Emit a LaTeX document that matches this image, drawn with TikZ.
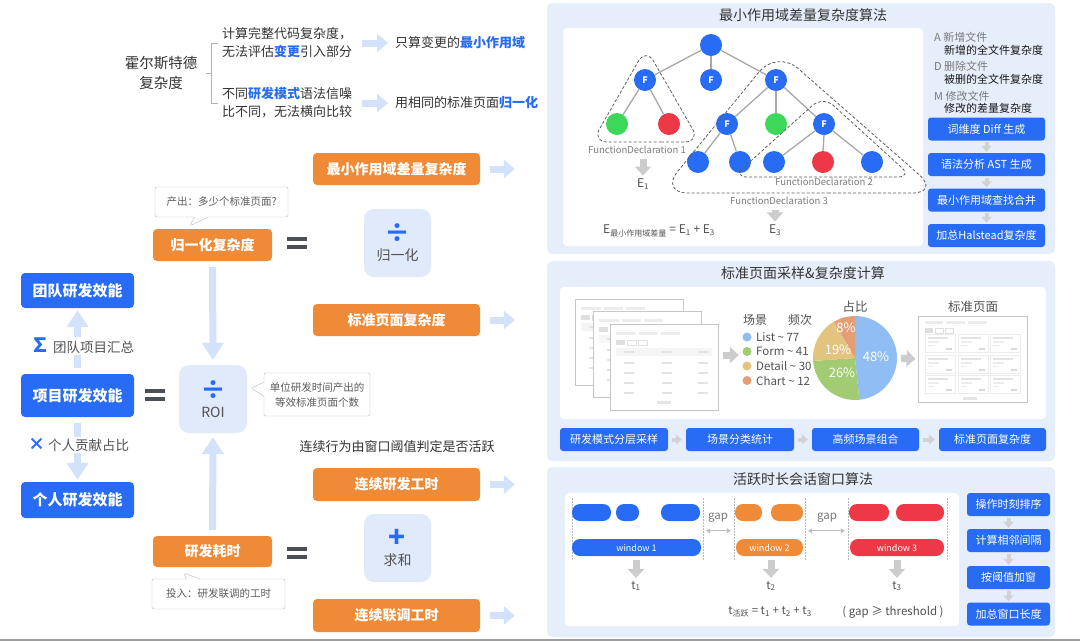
\documentclass[tikz,border=0pt]{standalone}
\usepackage{fontspec}
\setmainfont{Noto Sans CJK SC}
\usetikzlibrary{calc,positioning,arrows.meta,shapes.callouts}

\definecolor{tblue}{HTML}{286CF5}
\definecolor{torange}{HTML}{EF8A37}
\definecolor{tred}{HTML}{EE3848}
\definecolor{tgreen}{HTML}{3DD85A}
\definecolor{panelbg}{HTML}{E6EEFC}
\definecolor{opbg}{HTML}{E1EAFB}
\definecolor{fatblue}{HTML}{D3E2FB}
\definecolor{eqgrey}{HTML}{4B4F56}
\definecolor{darktext}{HTML}{333333}
\definecolor{subtext}{HTML}{7A7A7A}
\definecolor{linkgrey}{HTML}{A8A8A8}
\definecolor{pieblue}{HTML}{8FBDF4}
\definecolor{piegreen}{HTML}{A2CC74}
\definecolor{pietan}{HTML}{E2C47E}
\definecolor{pieorange}{HTML}{E49E76}

\begin{document}
\begin{tikzpicture}[x=1pt,y=-1pt]

\tikzset{orangebox/.style={fill=torange,rounded corners=4pt,text=white,font=\bfseries\fontsize{14}{16}\selectfont,minimum width=167pt,minimum height=32pt,inner sep=0pt},
shortbox/.style={orangebox,minimum width=119pt},
bluebox/.style={fill=tblue,rounded corners=4pt,text=white,font=\bfseries\fontsize{15}{17}\selectfont,minimum width=113pt,inner sep=0pt},
opbox/.style={fill=opbg,rounded corners=10pt,minimum width=67pt,minimum height=68pt,inner sep=0pt,align=center,text=darktext!85,font=\fontsize{14}{18}\selectfont},
notebox/.style={rectangle callout,draw=gray!55,fill=white,rounded corners=2pt,inner sep=0pt,align=center,text=darktext!80,font=\fontsize{10.5}{15}\selectfont,callout pointer width=14pt},
eqsign/.style={minimum width=19pt,minimum height=12.5pt,inner sep=0pt},
fatarrow/.style={draw=fatblue,line width=7pt,-{Triangle[width=18pt,length=11pt]}},
bigarrow/.style={draw=fatblue,line width=7pt,-{Triangle[width=21pt,length=17pt]}},
greyarrow/.style={draw=gray!40,line width=7pt,-{Triangle[width=16pt,length=9pt]}},
stepgrey/.style={draw=gray!35,line width=4pt,-{Triangle[width=10pt,length=6pt]}},
gaparrow/.style={draw=gray!50,line width=1.2pt,{Triangle[width=5pt,length=4pt]}-{Triangle[width=5pt,length=4pt]}},
stepbox/.style={fill=tblue,rounded corners=3pt,text=white,font=\fontsize{11}{13}\selectfont,minimum height=23pt,inner sep=0pt},
panel/.style={fill=panelbg,rounded corners=6pt,inner sep=0pt},
whitebox/.style={fill=white,rounded corners=4pt,inner sep=0pt},
paneltitle/.style={text=darktext,font=\fontsize{14}{16}\selectfont,inner sep=0pt},
bodytext/.style={text=darktext,font=\fontsize{13}{18}\selectfont,inner sep=0pt,align=left},
astnode/.style={circle,fill=tblue,minimum size=22pt,inner sep=0pt,text=white,font=\bfseries\fontsize{9}{9}\selectfont},
astlink/.style={draw=linkgrey,line width=1.3pt},
fdline/.style={draw=gray!75!black,dash pattern=on 3pt off 2pt,line width=0.8pt},
fdlabel/.style={text=subtext,font=\fontsize{9.5}{11}\selectfont,inner sep=0pt},
keytxt/.style={text=subtext,font=\fontsize{11}{13}\selectfont,inner sep=0pt,anchor=west},
keydesc/.style={text=black!90,font=\fontsize{11}{13}\selectfont,inner sep=0pt,anchor=west},
pill/.style={rounded corners=8pt,minimum height=17pt,inner sep=0pt,text=white,font=\fontsize{9}{10}\selectfont},
vline/.style={draw=gray!55,line width=0.8pt,dash pattern=on 1.5pt off 1.5pt},
tlabel/.style={text=darktext!85,font=\fontsize{11.5}{13}\selectfont,inner sep=0pt},
pagebox/.style={draw=gray!45,fill=white,line width=0.8pt},
legdot/.style={circle,minimum size=9pt,inner sep=0pt}}

% Canvas
\useasboundingbox (0,0) rectangle (1080,641);
\fill[white] (0,0) rectangle (1080,641);
\draw[gray!75,line width=1.5pt] (0,640) -- (1080,640);

% Halstead critique
\node (holst) [bodytext,align=center,font=\fontsize{14.5}{20}\selectfont] at (161,73) {霍尔斯特德\\复杂度};
\node (crit1) [bodytext,anchor=west] at (222,43) {计算完整代码复杂度，\\无法评估\textcolor{tblue}{\textbf{变更}}引入部分};
\node (crit2) [bodytext,anchor=west] at (222,103) {不同\textcolor{tblue}{\textbf{研发模式}}语法信噪\\比不同，无法横向比较};
\node (fix1) [bodytext,anchor=west] at (395,43) {只算变更的\textcolor{tblue}{\textbf{最小作用域}}};
\node (fix2) [bodytext,anchor=west] at (395,103) {用相同的标准页面\textcolor{tblue}{\textbf{归一化}}};
\draw[gray!60,line width=0.8pt] ([xshift=-4pt]crit1.west) -- ++(-7,0) |- ([xshift=-4pt]crit2.west);
\draw[gray!60,line width=0.8pt] ([xshift=9pt]holst.east) -- ++(5,0);
\draw[fatarrow,shorten <=10pt,shorten >=7pt] (crit1.east) -- (fix1.west);
\draw[fatarrow,shorten <=10pt,shorten >=7pt] (crit2.east) -- (fix2.west);

% Efficiency levels
\node (teamEff) [bluebox,minimum height=35pt] at (77.5,290.5) {团队研发效能};
\node (projEff) [bluebox,minimum height=43pt] at (77.5,395.5) {项目研发效能};
\node (selfEff) [bluebox,minimum height=36pt] at (77.5,500) {个人研发效能};
\draw[bigarrow,shorten <=6pt,shorten >=2pt] (projEff.north) -- (teamEff.south);
\draw[bigarrow,shorten <=6pt,shorten >=2pt] (projEff.south) -- (selfEff.north);
\node (sumLbl) [bodytext,fill=white,anchor=west,inner sep=1pt,text=darktext!85,font=\fontsize{13.5}{16}\selectfont] at (29,346) {\textcolor{tblue}{\bfseries\fontsize{20}{20}\selectfont ∑}\ 团队项目汇总};
\node (mulLbl) [bodytext,fill=white,anchor=west,inner sep=1pt,text=darktext!85,font=\fontsize{13.5}{16}\selectfont] at (27,445) {\textcolor{tblue}{\bfseries\fontsize{17}{17}\selectfont ×}\ 个人贡献占比};

% Formula blocks
\node (normCx) [shortbox] at (212.5,245) {归一化复杂度};
\node (rdCost) [shortbox,minimum height=31pt] at (212.5,551.5) {研发耗时};
\node (roiOp) [opbox,minimum width=68pt] at (213,399) {{\bfseries\fontsize{26}{26}\selectfont\textcolor{tblue}{÷}}\\ROI};
\node (normOp) [opbox] at (397.5,243) {{\bfseries\fontsize{26}{26}\selectfont\textcolor{tblue}{÷}}\\归一化};
\node (sumOp) [opbox] at (397.5,548) {{\bfseries\fontsize{28}{26}\selectfont\textcolor{tblue}{+}}\\求和};
\node (eq1) [eqsign] at (297,243) {};
\node (eq2) [eqsign] at (155,395) {};
\node (eq3) [eqsign] at (297,553) {};
\foreach \e in {eq1,eq2,eq3} {
  \fill[eqgrey] (\e.north west) rectangle ([yshift=-4.5pt]\e.north east);
  \fill[eqgrey] ([yshift=4.5pt]\e.south west) rectangle (\e.south east);
}
\draw[bigarrow,shorten <=6pt,shorten >=5pt] (normCx.south) -- (roiOp.north);
\draw[bigarrow,shorten <=6pt,shorten >=4pt] (rdCost.north) -- (roiOp.south);

% Callouts
\node (outNote) [notebox,minimum width=133pt,minimum height=30pt,callout absolute pointer={($(normCx.north west)+(37,-3)$)}] at (221.5,202) {产出：多少个标准页面?};
\node (roiNote) [notebox,minimum width=106pt,minimum height=43pt,callout absolute pointer={($(roiOp.east)+(4,-11)$)}] at (317,394.5) {单位研发时间产出的\\等效标准页面个数};
\node (inNote) [notebox,minimum width=133pt,minimum height=30pt,callout absolute pointer={($(rdCost.south west)+(31,6)$)}] at (218.5,594) {投入：研发联调的工时};

% Complexity and time terms
\node (minScope) [orangebox] at (396.5,169) {最小作用域差量复杂度};
\node (stdPage) [orangebox] at (396.5,320) {标准页面复杂度};
\node (ruleNote) [bodytext] at (397,447) {连续行为由窗口阈值判定是否活跃};
\node (devTime) [orangebox,minimum height=33pt] at (396.5,484.5) {连续研发工时};
\node (dbgTime) [orangebox,minimum height=33pt] at (396.5,615.5) {连续联调工时};

% Panels
\node (scopePanel) [panel,minimum width=508pt,minimum height=251pt] at (801,128.5) {};
\node (pagePanel) [panel,minimum width=508pt,minimum height=200pt] at (801,361) {};
\node (timePanel) [panel,minimum width=508pt,minimum height=170pt] at (801,552) {};
\node (scopeBoard) [whitebox,minimum width=360pt,minimum height=218pt] at (743,137) {};
\node (pageBoard) [whitebox,minimum width=486pt,minimum height=132pt] at (803,353) {};
\node (timeBoard) [whitebox,minimum width=394pt,minimum height=133pt] at (762,559.5) {};
\node (scopeTitle) [paneltitle] at (803,15) {最小作用域差量复杂度算法};
\node (pageTitle) [paneltitle] at (803,273) {标准页面采样\&复杂度计算};
\node (timeTitle) [paneltitle] at (803,479) {活跃时长会话窗口算法};
\draw[fatarrow,shorten <=10pt,shorten >=32pt] (minScope.east) -- (minScope.east -| scopePanel.west);
\draw[fatarrow,shorten <=10pt,shorten >=32pt] (stdPage.east) -- (stdPage.east -| pagePanel.west);
\draw[fatarrow,shorten <=10pt,shorten >=32pt] (devTime.east) -- (devTime.east -| timePanel.west);
\draw[fatarrow,shorten <=10pt,shorten >=32pt] (dbgTime.east) -- (dbgTime.east -| timePanel.west);

% AST tree
\node (tRoot) [astnode] at (711,45) {};
\node (tF1) [astnode] at (645,80) {F};
\node (tF2) [astnode] at (711,80) {F};
\node (tF3) [astnode] at (776,80) {F};
\node (tG1) [astnode,fill=tgreen] at (617,124) {};
\node (tR1) [astnode,fill=tred] at (669,124) {};
\node (tF4) [astnode] at (727,124) {F};
\node (tG2) [astnode,fill=tgreen] at (776,124) {};
\node (tF5) [astnode] at (824,124) {F};
\node (tB1) [astnode] at (698,162) {};
\node (tB2) [astnode] at (740,162) {};
\node (tB3) [astnode] at (774,162) {};
\node (tR2) [astnode,fill=tred] at (823,162) {};
\node (tB4) [astnode] at (872,162) {};
\foreach \src/\dst in {tRoot.208/tF1.28,tRoot.south/tF2.north,tRoot.332/tF3.152,tF1.237/tG1.57,tF1.299/tR1.119,tF3.222/tF4.42,tF3.south/tG2.north,tF3.318/tF5.138,tF4.233/tB1.53,tF4.289/tB2.109,tF5.217/tB3.37,tF5.south/tR2.north,tF5.322/tB4.142}
  \draw[astlink] (\src) -- (\dst);
\draw[fdline,rounded corners=15pt] (646,142) -- (700,142) -- (646,48) -- (592,142) -- cycle;
\draw[fdline,rounded corners=14pt] (820,177) -- (912,177) -- (823,96) -- (733,177) -- cycle;
\draw[fdline,rounded corners=28pt] (800,193) -- (940,193) -- (777,50) -- (660,193) -- cycle;
\node (fd1) [fdlabel] at (637,150) {FunctionDeclaration 1};
\node (fd2) [fdlabel] at (824,182) {FunctionDeclaration 2};
\node (fd3) [fdlabel] at (779,201) {FunctionDeclaration 3};
\node (e1) [tlabel,font=\fontsize{12}{14}\selectfont] at (643,184) {E\textsubscript{1}};
\node (e3) [tlabel,font=\fontsize{12}{14}\selectfont] at (775,230) {E\textsubscript{3}};
\draw[greyarrow,shorten <=5pt,shorten >=3pt] (fd1.south -| e1) -- (e1.north);
\draw[greyarrow,shorten <=5pt,shorten >=3pt] (fd3.south -| e3) -- (e3.north);
\node (eSum) [tlabel,anchor=west,font=\fontsize{12}{14}\selectfont] at (603,231) {E\textsubscript{最小作用域差量} = E\textsubscript{1} + E\textsubscript{3}};

% File kinds and steps
\node (addKey) [keytxt] at (934,37) {A\ 新增文件};
\node (addDesc) [keydesc] at (944,50) {新增的全文件复杂度};
\node (delKey) [keytxt] at (934,66) {D\ 删除文件};
\node (delDesc) [keydesc] at (944,79) {被删的全文件复杂度};
\node (modKey) [keytxt] at (934,96) {M\ 修改文件};
\node (modDesc) [keydesc] at (944,108) {修改的差量复杂度};
\node (diffStep) [stepbox,minimum width=117pt] at (986.5,129) {词维度 Diff 生成};
\node (astStep) [stepbox,minimum width=117pt] at (986.5,164.5) {语法分析 AST 生成};
\node (mergeStep) [stepbox,minimum width=117pt] at (986.5,200) {最小作用域查找合并};
\node (haltStep) [stepbox,minimum width=117pt] at (986.5,235.5) {加总Halstead复杂度};
\draw[stepgrey,shorten <=1.5pt,shorten >=1pt] (diffStep) -- (astStep);
\draw[stepgrey,shorten <=1.5pt,shorten >=1pt] (astStep) -- (mergeStep);
\draw[stepgrey,shorten <=1.5pt,shorten >=1pt] (mergeStep) -- (haltStep);

% Sampled pages
\foreach \px/\py in {575/299,593/311,610/324} {
  \draw[pagebox] (\px,\py) rectangle ++(108,86);
  \foreach \bx/\bw in {6/20,29/19,51/19} \fill[gray!15] (\px+\bx,\py+8) rectangle ++(\bw,3);
  \fill[gray!25] (\px+6,\py+16) rectangle ++(9,5);
  \draw[gray!25,line width=0.5pt] (\px+17,\py+16) rectangle ++(9,5) (\px+28,\py+16) rectangle ++(9,5);
  \fill[gray!8] (\px+6,\py+24) rectangle ++(96,8);
  \foreach \ry in {27,38,48,58,68} \foreach \rx in {14,52,88} \fill[gray!22] (\px+\rx,\py+\ry) rectangle ++(10,2);
  \fill[gray!20] (\px+47,\py+77) rectangle ++(14,3);
}
\coordinate (pageStack) at (718,355);

% Scene legend
\node (sceneHead) [tlabel,font=\fontsize{12}{14}\selectfont] at (755,320) {场景};
\node (freqHead) [tlabel,font=\fontsize{12}{14}\selectfont] at (800,320) {频次};
\node (listDot) [legdot,fill=pieblue] at (747,337) {};
\node (formDot) [legdot,fill=piegreen] at (747,351.5) {};
\node (detailDot) [legdot,fill=pietan] at (747,366) {};
\node (chartDot) [legdot,fill=pieorange] at (747,380.5) {};
\node (listTxt) [tlabel,anchor=west] at (756,337) {List \textasciitilde{} 77};
\node (formTxt) [tlabel,anchor=west] at (756,351.5) {Form \textasciitilde{} 41};
\node (detailTxt) [tlabel,anchor=west] at (756,366) {Detail \textasciitilde{} 30};
\node (chartTxt) [tlabel,anchor=west] at (756,380.5) {Chart \textasciitilde{} 12};
\draw[greyarrow,shorten <=5pt,shorten >=3.5pt] (pageStack) -- (pageStack -| listDot.west);

% Share pie
\coordinate (pie) at (855,358);
\node (shareHead) [tlabel,font=\fontsize{12.5}{14}\selectfont] at (855,307) {占比};
\fill[pieblue] (pie) -- ++(90:42pt) arc[start angle=90,end angle=-84,radius=42pt] -- cycle;
\fill[piegreen] (pie) -- ++(-84:42pt) arc[start angle=-84,end angle=-176,radius=42pt] -- cycle;
\fill[pietan] (pie) -- ++(-176:42pt) arc[start angle=-176,end angle=-240,radius=42pt] -- cycle;
\fill[pieorange] (pie) -- ++(-240:42pt) arc[start angle=-240,end angle=-270,radius=42pt] -- cycle;
\node (listPct) [text=white,font=\fontsize{13}{14}\selectfont,inner sep=0pt] at (876,357) {48\%};
\node (formPct) [text=white,font=\fontsize{13}{14}\selectfont,inner sep=0pt] at (842,373) {26\%};
\node (detailPct) [text=white,font=\fontsize{13}{14}\selectfont,inner sep=0pt] at (838,350) {19\%};
\node (chartPct) [text=white,font=\fontsize{13}{14}\selectfont,inner sep=0pt] at (846,328) {8\%};

% Standard page
\node (stdHead) [tlabel,font=\fontsize{12.5}{14}\selectfont] at (973,307) {标准页面};
\node (stdSheet) [pagebox,minimum width=109pt,minimum height=86pt,inner sep=0pt] at (972.5,359) {};
\foreach \bx/\bw in {7/18,28/19,50/19} \fill[gray!15] (918+\bx,321) rectangle ++(\bw,3);
\fill[gray!25] (925,328) rectangle ++(8,5);
\draw[gray!25,line width=0.5pt] (935,328) rectangle ++(8,5) (945,328) rectangle ++(8,5);
\foreach \cx in {925,958,990} \foreach \cy in {334,355,375} {
  \draw[gray!15,line width=0.5pt] (\cx,\cy) rectangle ++(30,18);
  \fill[gray!22] (\cx+3,\cy+3) rectangle ++(20,2);
  \fill[gray!15] (\cx+3,\cy+7) rectangle ++(11,1.5);
  \fill[gray!15] (\cx+3,\cy+10.5) rectangle ++(6,1.5);
  \fill[gray!30] (\cx+21,\cy+14) rectangle ++(6,1.5);
}
\fill[gray!20] (963,397) rectangle ++(14,3);
\draw[greyarrow,shorten <=4pt,shorten >=2pt] ([xshift=42pt]pie) -- (stdSheet.west);

% Sampling steps
\node (sampleStep) [stepbox,minimum width=108pt] at (614,439.5) {研发模式分层采样};
\node (classStep) [stepbox,minimum width=108pt] at (740,439.5) {场景分类统计};
\node (comboStep) [stepbox,minimum width=107pt] at (865.5,439.5) {高频场景组合};
\node (pageStep) [stepbox,minimum width=107pt] at (992.5,439.5) {标准页面复杂度};
\draw[stepgrey,shorten <=4pt,shorten >=4pt] (sampleStep) -- (classStep);
\draw[stepgrey,shorten <=4pt,shorten >=4pt] (classStep) -- (comboStep);
\draw[stepgrey,shorten <=4pt,shorten >=4pt] (comboStep) -- (pageStep);

% Session windows
\foreach \x in {572,703,734,805,848,947} \draw[vline] (\x,498) -- (\x,560);
\node (ev1) [pill,fill=tblue,minimum width=39pt] at (591.5,512.5) {};
\node (ev2) [pill,fill=tblue,minimum width=23pt] at (627.5,512.5) {};
\node (ev3) [pill,fill=tblue,minimum width=39pt] at (680.5,512.5) {};
\node (ev4) [pill,fill=torange,minimum width=27pt] at (748.5,512.5) {};
\node (ev5) [pill,fill=torange,minimum width=32pt] at (787,512.5) {};
\node (ev6) [pill,fill=tred,minimum width=40pt] at (869,512.5) {};
\node (ev7) [pill,fill=tred,minimum width=48pt] at (920,512.5) {};
\node (win1) [pill,fill=tblue,minimum width=129pt] at (636.5,547.5) {window 1};
\node (win2) [pill,fill=torange,minimum width=67pt] at (769.5,547.5) {window 2};
\node (win3) [pill,fill=tred,minimum width=94pt] at (897,547.5) {window 3};
\node (gap1) [tlabel,text=subtext] at (718,518) {gap};
\node (gap2) [tlabel,text=subtext] at (827,518) {gap};
\draw[gaparrow,shorten <=5pt,shorten >=5pt] ([yshift=8pt]win1.north east) -- ([yshift=8pt]win2.north west);
\draw[gaparrow,shorten <=5pt,shorten >=5pt] ([yshift=8pt]win2.north east) -- ([yshift=8pt]win3.north west);
\node (t1) [tlabel] at (636,586) {t\textsubscript{1}};
\node (t2) [tlabel] at (771,586) {t\textsubscript{2}};
\node (t3) [tlabel] at (897,586) {t\textsubscript{3}};
\draw[greyarrow,shorten <=4pt,shorten >=3pt] (win1.south -| t1) -- (t1.north);
\draw[greyarrow,shorten <=4pt,shorten >=3pt] (win2.south -| t2) -- (t2.north);
\draw[greyarrow,shorten <=4pt,shorten >=3pt] (win3.south -| t3) -- (t3.north);
\node (tSum) [tlabel] at (770,612) {t\textsubscript{活跃} = t\textsubscript{1} + t\textsubscript{2} + t\textsubscript{3}};
\node (gapRule) [tlabel] at (893,612) {(\ gap ≥ threshold\ )};

% Session steps
\node (sortStep) [stepbox,minimum width=83pt] at (1008.5,504.5) {操作时刻排序};
\node (gapStep) [stepbox,minimum width=83pt] at (1008.5,540.5) {计算相邻间隔};
\node (winStep) [stepbox,minimum width=83pt] at (1008.5,577.5) {按阈值加窗};
\node (totalStep) [stepbox,minimum width=83pt] at (1008.5,614) {加总窗口长度};
\draw[stepgrey,shorten <=1.5pt,shorten >=1pt] (sortStep) -- (gapStep);
\draw[stepgrey,shorten <=1.5pt,shorten >=1pt] (gapStep) -- (winStep);
\draw[stepgrey,shorten <=1.5pt,shorten >=1pt] (winStep) -- (totalStep);

\end{tikzpicture}
\end{document}
